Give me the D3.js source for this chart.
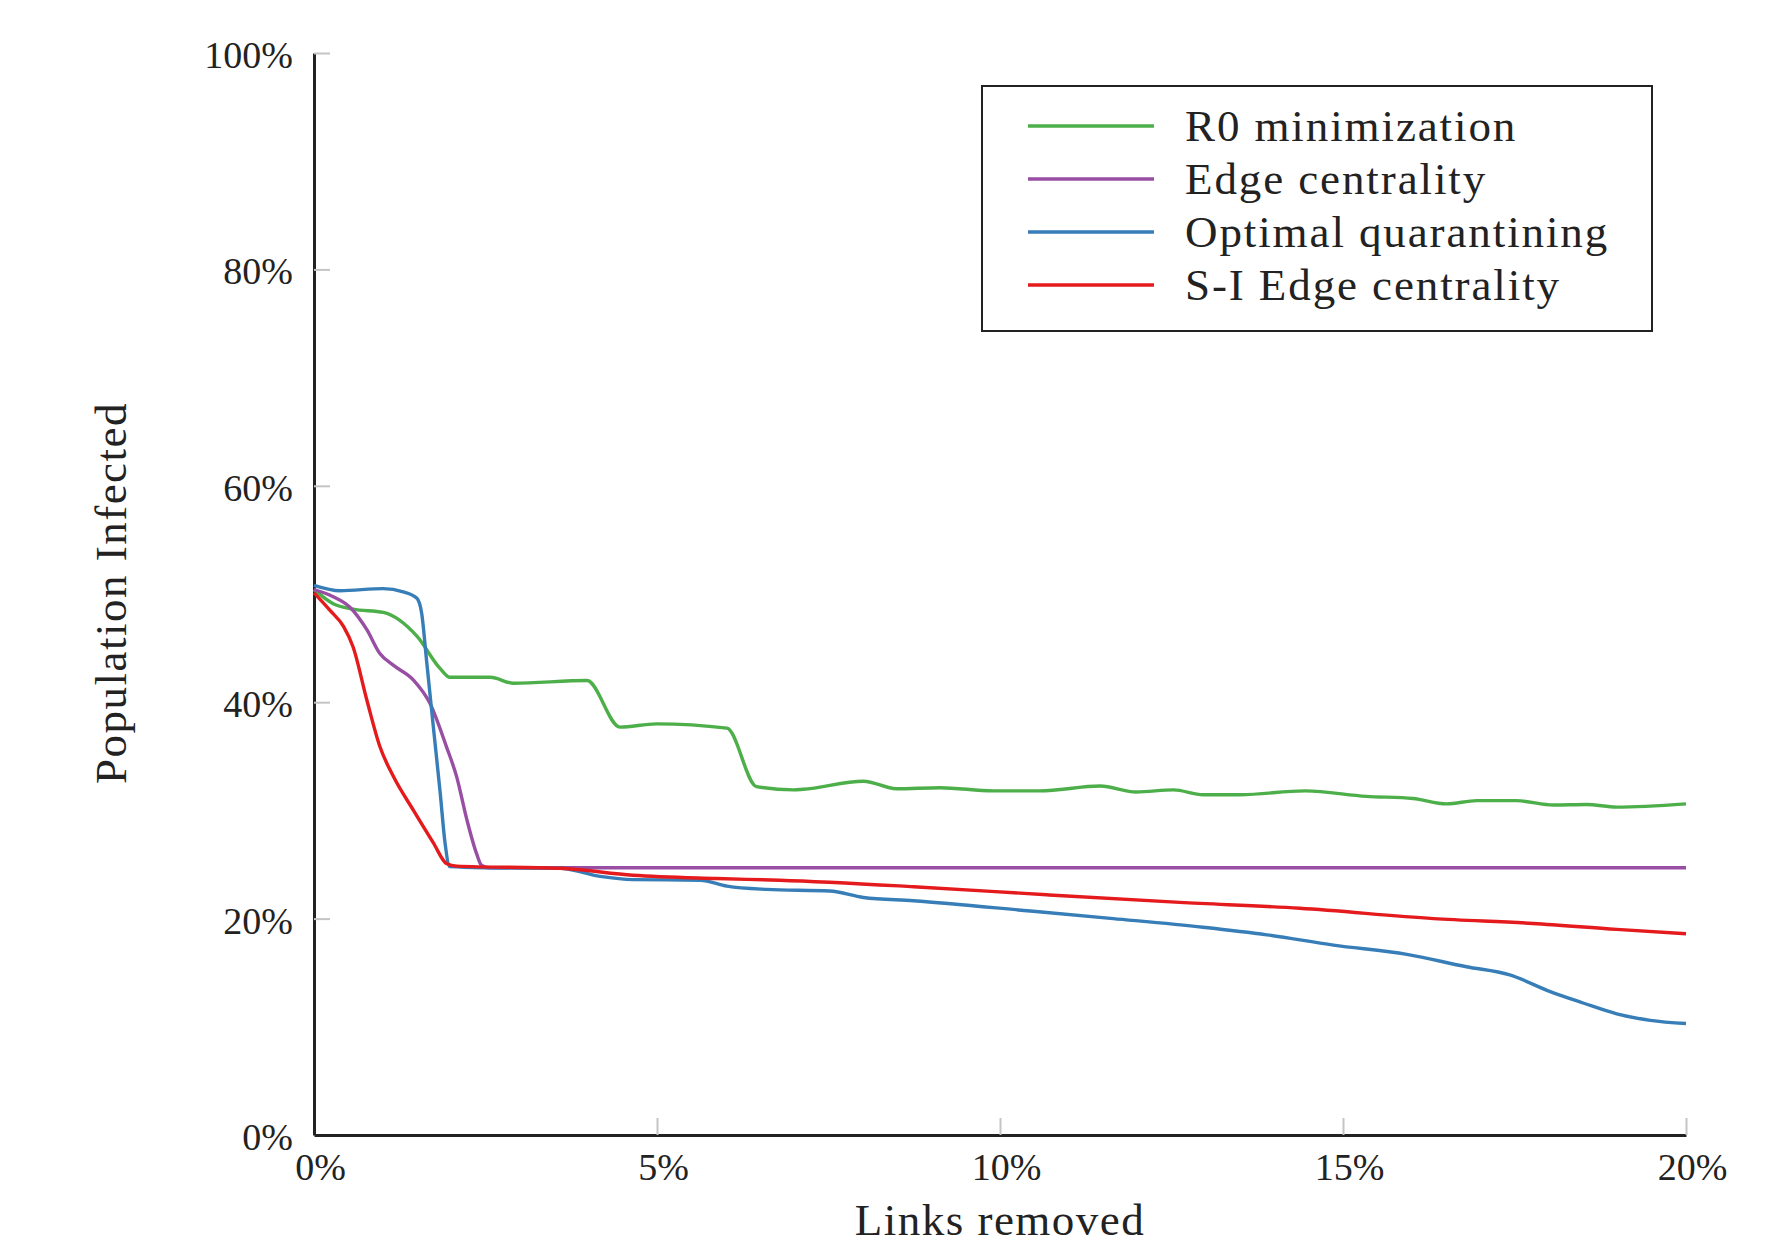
<!DOCTYPE html>
<html>
<head>
<meta charset="utf-8">
<script src="https://cdn.jsdelivr.net/npm/d3@7"></script>
<style>
  body { margin: 0; background: #fff; }
  svg { display: block; font-family: "Liberation Serif", "DejaVu Serif", serif; }
</style>
</head>
<body>
<svg width="1778" height="1247"></svg>
<script>
'use strict';

// series names + colours (legend order)
var seriesNames = ['R0 minimization', 'Edge centrality', 'Optimal quarantining', 'S-I Edge centrality'];
var seriesColors = ['#4daf4a', '#984ea3', '#377eb8', '#e41a1c'];

// [links removed %, population infected %]
var r0Data = [
    [0, 50.4], [0.28, 49.1], [0.57, 48.6], [1.01, 48.3], [1.5, 46.1], [1.84, 43.1],
    [1.98, 42.3], [2.57, 42.3], [2.91, 41.75], [3.98, 42.0], [4.46, 37.7], [4.99, 38.0],
    [6.02, 37.6], [6.45, 32.2], [6.99, 31.9], [7.13, 31.95], [8.01, 32.7], [8.49, 32.0],
    [9.13, 32.1], [9.9, 31.8], [10.58, 31.8], [11.46, 32.25], [11.99, 31.7], [12.53, 31.9],
    [12.96, 31.45], [13.5, 31.45], [14.45, 31.8], [15.34, 31.3], [16.02, 31.1], [16.51, 30.6],
    [16.95, 30.9], [17.53, 30.9], [18.07, 30.5], [18.55, 30.55], [18.99, 30.3], [20, 30.6]
];
var edgeData = [
    [0, 50.4], [0.28, 49.75], [0.52, 48.8], [0.77, 46.7], [0.96, 44.5], [1.16, 43.4],
    [1.45, 42.05], [1.69, 39.9], [1.93, 35.9], [2.08, 33.1], [2.23, 29.1], [2.37, 26.0],
    [2.44, 24.95], [2.55, 24.7], [20, 24.7]
];
var quarantineData = [
    [0, 50.8], [0.38, 50.3], [1.01, 50.5], [1.3, 50.2], [1.5, 49.6], [1.57, 48.2],
    [1.64, 43.9], [1.74, 37.7], [1.84, 31.6], [1.91, 27.0], [1.98, 24.8], [2.47, 24.7],
    [3.59, 24.65], [4.17, 23.9], [4.65, 23.6], [5.63, 23.55], [6.02, 23.0], [6.6, 22.7],
    [7.52, 22.55], [8.01, 21.95], [8.74, 21.65], [10.44, 20.7], [11.65, 20.0], [12.96, 19.2],
    [13.89, 18.5], [14.86, 17.55], [15.93, 16.7], [16.8, 15.55], [17.43, 14.8], [18.02, 13.25],
    [18.5, 12.2], [18.99, 11.2], [19.48, 10.6], [20, 10.3]
];
var siEdgeData = [
    [0, 50.1], [0.23, 48.5], [0.43, 47.0], [0.57, 45.1], [0.77, 40.2], [0.96, 35.9],
    [1.16, 33.1], [1.45, 30.0], [1.74, 27.0], [1.93, 25.1], [2.08, 24.85], [3.59, 24.65],
    [4.65, 24.0], [5.87, 23.7], [6.79, 23.55], [8.74, 22.95], [10.68, 22.2], [12.62, 21.5],
    [14.37, 20.95], [16.32, 20.0], [17.77, 19.55], [18.99, 19.0], [20, 18.6]
];

var xTicks = [0, 5, 10, 15, 20];
var yTicks = [0, 20, 40, 60, 80, 100];

var svg = d3.select('svg');

// plot area
var plotLeft = 314, plotRight = 1686, plotTop = 53, plotBottom = 1135;

var x = d3.scaleLinear().domain([0, 20]).range([plotLeft, plotRight]);
var y = d3.scaleLinear().domain([0, 100]).range([plotBottom, plotTop]);

var fmt = function (d) { return d + '%'; };

// x axis, ticks pointing into the plot
var xAxis = svg.append('g')
    .attr('transform', 'translate(0,' + plotBottom + ')')
    .call(d3.axisBottom(x).tickValues(xTicks).tickFormat(fmt)
        .tickSizeInner(-17).tickSizeOuter(0).tickPadding(18));

// y axis
var yAxis = svg.append('g')
    .attr('transform', 'translate(' + plotLeft + ',0)')
    .call(d3.axisLeft(y).tickValues(yTicks).tickFormat(fmt)
        .tickSizeInner(-16).tickSizeOuter(0).tickPadding(21));

[xAxis, yAxis].forEach(function (ax) {
    ax.select('.domain').attr('stroke', '#222').attr('stroke-width', 3);
    ax.selectAll('.tick line').attr('stroke', '#c4c4c4').attr('stroke-width', 2);
    ax.selectAll('.tick text')
        .attr('fill', '#222')
        .style('font-family', '"Liberation Serif", serif')
        .style('font-size', '38px');
});
xAxis.selectAll('.tick text').attr('dx', 6);
yAxis.selectAll('.tick text').attr('dy', '0.38em');

// hide tick marks that sit on the other axis
xAxis.selectAll('.tick line').filter(function (d) { return d === 0; }).remove();
yAxis.selectAll('.tick line').filter(function (d) { return d === 0; }).remove();

// axis titles
svg.append('text')
    .attr('x', (plotLeft + plotRight) / 2)
    .attr('y', 1235)
    .attr('text-anchor', 'middle')
    .attr('fill', '#222')
    .style('font-size', '45px')
    .style('letter-spacing', '1.5px')
    .text('Links removed');

svg.append('text')
    .attr('transform', 'translate(126,' + ((plotTop + plotBottom) / 2 - 1) + ') rotate(-90)')
    .attr('text-anchor', 'middle')
    .attr('fill', '#222')
    .style('font-size', '45px')
    .style('letter-spacing', '1.5px')
    .text('Population Infected');

// lines
var line = d3.line()
    .x(function (d) { return x(d[0]); })
    .y(function (d) { return y(d[1]); })
    .curve(d3.curveMonotoneX);

var allSeries = [r0Data, edgeData, quarantineData, siEdgeData];

svg.append('g').selectAll('path')
    .data(allSeries)
    .enter()
    .append('path')
    .attr('d', line)
    .attr('fill', 'none')
    .attr('stroke', function (d, i) { return seriesColors[i]; })
    .attr('stroke-width', 3.4)
    .attr('stroke-linejoin', 'round');

// legend
var legend = svg.append('g');
legend.append('rect')
    .attr('x', 982).attr('y', 86)
    .attr('width', 670).attr('height', 245)
    .attr('fill', '#fff')
    .attr('stroke', '#222')
    .attr('stroke-width', 2);

var items = legend.selectAll('g.item')
    .data(seriesNames)
    .enter()
    .append('g')
    .attr('class', 'item')
    .attr('transform', function (d, i) { return 'translate(0,' + (126 + i * 53) + ')'; });

items.append('line')
    .attr('x1', 1028).attr('x2', 1154)
    .attr('y1', 0).attr('y2', 0)
    .attr('stroke', function (d, i) { return seriesColors[i]; })
    .attr('stroke-width', 3.4);

items.append('text')
    .attr('x', 1185)
    .attr('dy', '0.34em')
    .attr('fill', '#222')
    .style('font-size', '45px')
    .style('letter-spacing', '1.9px')
    .text(function (d) { return d; });
</script>
</body>
</html>
